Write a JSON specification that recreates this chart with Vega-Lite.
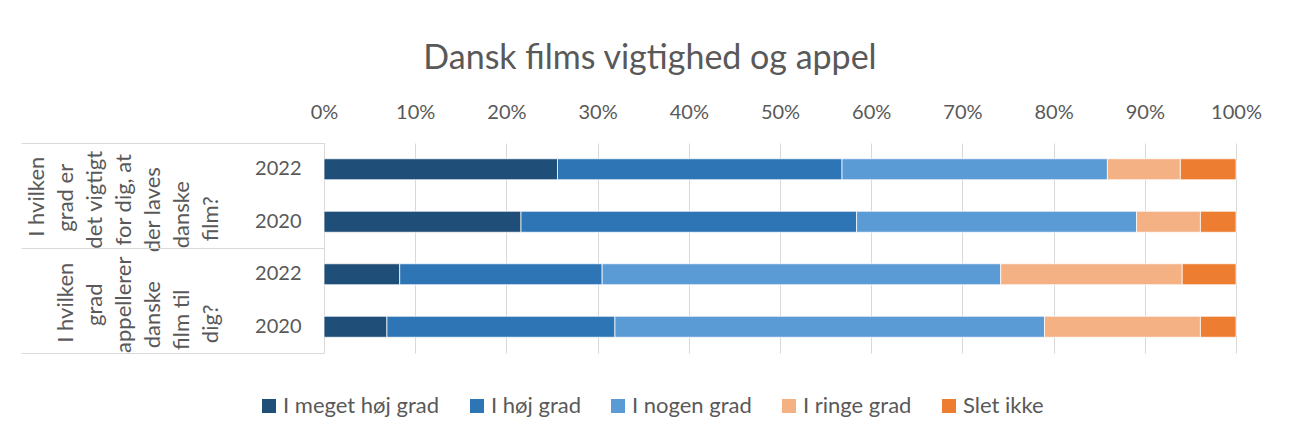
{
  "$schema": "https://vega.github.io/schema/vega-lite/v6.json",
  "width": 912,
  "height": 210,
  "autosize": {"type": "none"},
  "padding": {"left": 324, "top": 143, "right": 55, "bottom": 84},
  "background": "white",
  "config": {"font": "Lato", "view": {"stroke": null},
    "axisLeft": {"labelAngle": -90, "labelAlign": "center", "labelFontSize": 22, "labelColor": "#595959", "labelOverlap": false, "labelBound": false, "labelLimit": 0}},
  "title": {"text": "Dansk films vigtighed og appel", "fontSize": 34, "fontWeight": "normal", "color": "#595959", "anchor": "middle", "dx": -130, "offset": 26},
  "data": {"values": [
    {"key": "I hvilken~grad er~det vigtigt~for dig, at~der laves~danske~film?|2022", "cat": "I meget høj grad", "rank": 1, "value": 25.6},
    {"key": "I hvilken~grad er~det vigtigt~for dig, at~der laves~danske~film?|2022", "cat": "I høj grad", "rank": 2, "value": 31.2},
    {"key": "I hvilken~grad er~det vigtigt~for dig, at~der laves~danske~film?|2022", "cat": "I nogen grad", "rank": 3, "value": 29.1},
    {"key": "I hvilken~grad er~det vigtigt~for dig, at~der laves~danske~film?|2022", "cat": "I ringe grad", "rank": 4, "value": 8.0},
    {"key": "I hvilken~grad er~det vigtigt~for dig, at~der laves~danske~film?|2022", "cat": "Slet ikke", "rank": 5, "value": 6.1},
    {"key": "I hvilken~grad er~det vigtigt~for dig, at~der laves~danske~film?|2020", "cat": "I meget høj grad", "rank": 1, "value": 21.6},
    {"key": "I hvilken~grad er~det vigtigt~for dig, at~der laves~danske~film?|2020", "cat": "I høj grad", "rank": 2, "value": 36.8},
    {"key": "I hvilken~grad er~det vigtigt~for dig, at~der laves~danske~film?|2020", "cat": "I nogen grad", "rank": 3, "value": 30.7},
    {"key": "I hvilken~grad er~det vigtigt~for dig, at~der laves~danske~film?|2020", "cat": "I ringe grad", "rank": 4, "value": 7.0},
    {"key": "I hvilken~grad er~det vigtigt~for dig, at~der laves~danske~film?|2020", "cat": "Slet ikke", "rank": 5, "value": 3.9},
    {"key": "I hvilken~grad~appellerer~danske~film til~dig?|2022", "cat": "I meget høj grad", "rank": 1, "value": 8.3},
    {"key": "I hvilken~grad~appellerer~danske~film til~dig?|2022", "cat": "I høj grad", "rank": 2, "value": 22.2},
    {"key": "I hvilken~grad~appellerer~danske~film til~dig?|2022", "cat": "I nogen grad", "rank": 3, "value": 43.7},
    {"key": "I hvilken~grad~appellerer~danske~film til~dig?|2022", "cat": "I ringe grad", "rank": 4, "value": 19.9},
    {"key": "I hvilken~grad~appellerer~danske~film til~dig?|2022", "cat": "Slet ikke", "rank": 5, "value": 5.9},
    {"key": "I hvilken~grad~appellerer~danske~film til~dig?|2020", "cat": "I meget høj grad", "rank": 1, "value": 6.9},
    {"key": "I hvilken~grad~appellerer~danske~film til~dig?|2020", "cat": "I høj grad", "rank": 2, "value": 25.0},
    {"key": "I hvilken~grad~appellerer~danske~film til~dig?|2020", "cat": "I nogen grad", "rank": 3, "value": 47.1},
    {"key": "I hvilken~grad~appellerer~danske~film til~dig?|2020", "cat": "I ringe grad", "rank": 4, "value": 17.1},
    {"key": "I hvilken~grad~appellerer~danske~film til~dig?|2020", "cat": "Slet ikke", "rank": 5, "value": 3.9}
  ]},
  "layer": [
    {
      "mark": {"type": "bar", "height": {"band": 0.4}, "stroke": "white", "strokeWidth": 0.75},
      "encoding": {
        "y": {"field": "key", "type": "nominal", "sort": null, "title": null,
          "scale": {"paddingInner": 0, "paddingOuter": 0},
          "axis": {"orient": "left", "labelExpr": "split(datum.value, '|')[1]", "ticks": false, "tickSize": 0,
            "labelAngle": 0, "labelAlign": "right", "labelBaseline": "middle",
            "domainColor": "#d9d9d9", "domainWidth": 1, "labelPadding": 23, "labelFontSize": 20,
            "labelColor": "#595959", "grid": false}},
        "x": {"field": "value", "type": "quantitative", "stack": "normalize", "title": null,
          "scale": {"domain": [0, 1]},
          "axis": {"orient": "top", "format": ".0%", "values": [0, 0.1, 0.2, 0.3, 0.4, 0.5, 0.6, 0.7, 0.8, 0.9, 1],
            "labelFlush": false, "ticks": false, "tickSize": 0, "domain": false, "grid": true,
            "gridColor": "#d9d9d9", "gridWidth": 1, "labelFontSize": 20, "labelColor": "#595959", "labelPadding": 21}},
        "order": {"field": "rank", "type": "quantitative", "sort": "ascending"},
        "color": {"field": "cat", "type": "nominal",
          "sort": ["I meget høj grad", "I høj grad", "I nogen grad", "I ringe grad", "Slet ikke"],
          "scale": {"domain": ["I meget høj grad", "I høj grad", "I nogen grad", "I ringe grad", "Slet ikke"],
            "range": ["#1F4E79", "#2E75B6", "#5B9BD5", "#F4B183", "#ED7D31"]},
          "legend": {"orient": "none", "legendX": -66, "legendY": 252, "direction": "horizontal", "title": null,
            "symbolType": "square", "symbolSize": 196, "symbolStrokeWidth": 0, "labelFontSize": 22,
            "labelColor": "#595959", "columnPadding": 26, "labelOffset": 3}}
      }
    },
    {
      "mark": {"type": "point", "opacity": 0},
      "encoding": {"y": {"field": "key", "type": "nominal", "sort": null, "title": null,
        "axis": {"orient": "left", "values": ["I hvilken~grad er~det vigtigt~for dig, at~der laves~danske~film?|2020", "I hvilken~grad~appellerer~danske~film til~dig?|2020"],
          "bandPosition": 0, "ticks": false, "tickSize": 0, "domain": false, "grid": false, "labelBaseline": "alphabetic", "labelPadding": 107, "labelOffset": -3,
          "labelExpr": "length(split(split(datum.value, '|')[0], '~')) > 0 ? split(split(datum.value, '|')[0], '~')[length(split(split(datum.value, '|')[0], '~')) - 1] : ''"}}}
    },
    {
      "mark": {"type": "point", "opacity": 0},
      "encoding": {"y": {"field": "key", "type": "nominal", "sort": null, "title": null,
        "axis": {"orient": "left", "values": ["I hvilken~grad er~det vigtigt~for dig, at~der laves~danske~film?|2020", "I hvilken~grad~appellerer~danske~film til~dig?|2020"],
          "bandPosition": 0, "ticks": false, "tickSize": 0, "domain": false, "grid": false, "labelBaseline": "alphabetic", "labelPadding": 136, "labelOffset": -7,
          "labelExpr": "length(split(split(datum.value, '|')[0], '~')) > 1 ? split(split(datum.value, '|')[0], '~')[length(split(split(datum.value, '|')[0], '~')) - 2] : ''"}}}
    },
    {
      "mark": {"type": "point", "opacity": 0},
      "encoding": {"y": {"field": "key", "type": "nominal", "sort": null, "title": null,
        "axis": {"orient": "left", "values": ["I hvilken~grad er~det vigtigt~for dig, at~der laves~danske~film?|2020", "I hvilken~grad~appellerer~danske~film til~dig?|2020"],
          "bandPosition": 0, "ticks": false, "tickSize": 0, "domain": false, "grid": false, "labelBaseline": "alphabetic", "labelPadding": 165, "labelOffset": -12,
          "labelExpr": "length(split(split(datum.value, '|')[0], '~')) > 2 ? split(split(datum.value, '|')[0], '~')[length(split(split(datum.value, '|')[0], '~')) - 3] : ''"}}}
    },
    {
      "mark": {"type": "point", "opacity": 0},
      "encoding": {"y": {"field": "key", "type": "nominal", "sort": null, "title": null,
        "axis": {"orient": "left", "values": ["I hvilken~grad er~det vigtigt~for dig, at~der laves~danske~film?|2020", "I hvilken~grad~appellerer~danske~film til~dig?|2020"],
          "bandPosition": 0, "ticks": false, "tickSize": 0, "domain": false, "grid": false, "labelBaseline": "alphabetic", "labelPadding": 194, "labelOffset": -22,
          "labelExpr": "length(split(split(datum.value, '|')[0], '~')) > 3 ? split(split(datum.value, '|')[0], '~')[length(split(split(datum.value, '|')[0], '~')) - 4] : ''"}}}
    },
    {
      "mark": {"type": "point", "opacity": 0},
      "encoding": {"y": {"field": "key", "type": "nominal", "sort": null, "title": null,
        "axis": {"orient": "left", "values": ["I hvilken~grad er~det vigtigt~for dig, at~der laves~danske~film?|2020", "I hvilken~grad~appellerer~danske~film til~dig?|2020"],
          "bandPosition": 0, "ticks": false, "tickSize": 0, "domain": false, "grid": false, "labelBaseline": "alphabetic", "labelPadding": 223, "labelOffset": -22,
          "labelExpr": "length(split(split(datum.value, '|')[0], '~')) > 4 ? split(split(datum.value, '|')[0], '~')[length(split(split(datum.value, '|')[0], '~')) - 5] : ''"}}}
    },
    {
      "mark": {"type": "point", "opacity": 0},
      "encoding": {"y": {"field": "key", "type": "nominal", "sort": null, "title": null,
        "axis": {"orient": "left", "values": ["I hvilken~grad er~det vigtigt~for dig, at~der laves~danske~film?|2020", "I hvilken~grad~appellerer~danske~film til~dig?|2020"],
          "bandPosition": 0, "ticks": false, "tickSize": 0, "domain": false, "grid": false, "labelBaseline": "alphabetic", "labelPadding": 252, "labelOffset": -24,
          "labelExpr": "length(split(split(datum.value, '|')[0], '~')) > 5 ? split(split(datum.value, '|')[0], '~')[length(split(split(datum.value, '|')[0], '~')) - 6] : ''"}}}
    },
    {
      "mark": {"type": "point", "opacity": 0},
      "encoding": {"y": {"field": "key", "type": "nominal", "sort": null, "title": null,
        "axis": {"orient": "left", "values": ["I hvilken~grad er~det vigtigt~for dig, at~der laves~danske~film?|2020", "I hvilken~grad~appellerer~danske~film til~dig?|2020"],
          "bandPosition": 0, "ticks": false, "tickSize": 0, "domain": false, "grid": false, "labelBaseline": "alphabetic", "labelPadding": 281, "labelOffset": -25,
          "labelExpr": "length(split(split(datum.value, '|')[0], '~')) > 6 ? split(split(datum.value, '|')[0], '~')[length(split(split(datum.value, '|')[0], '~')) - 7] : ''"}}}
    },
    {
      "mark": {"type": "point", "opacity": 0},
      "encoding": {"y": {"field": "key", "type": "nominal", "sort": null, "title": null,
        "axis": {"orient": "left", "values": ["I hvilken~grad er~det vigtigt~for dig, at~der laves~danske~film?|2022", "I hvilken~grad~appellerer~danske~film til~dig?|2022"],
          "bandPosition": 0, "ticks": true, "tickSize": 303, "tickColor": "#d9d9d9", "tickWidth": 1, "domain": false, "grid": false,
          "labels": false}}}
    },
    {
      "mark": {"type": "point", "opacity": 0},
      "encoding": {"y": {"field": "key", "type": "nominal", "sort": null, "title": null,
        "axis": {"orient": "left", "values": ["I hvilken~grad~appellerer~danske~film til~dig?|2020"],
          "bandPosition": 1, "ticks": true, "tickSize": 303, "tickColor": "#d9d9d9", "tickWidth": 1, "domain": false, "grid": false,
          "labels": false}}}
    }
  ],
  "resolve": {"axis": {"y": "independent"}}
}
